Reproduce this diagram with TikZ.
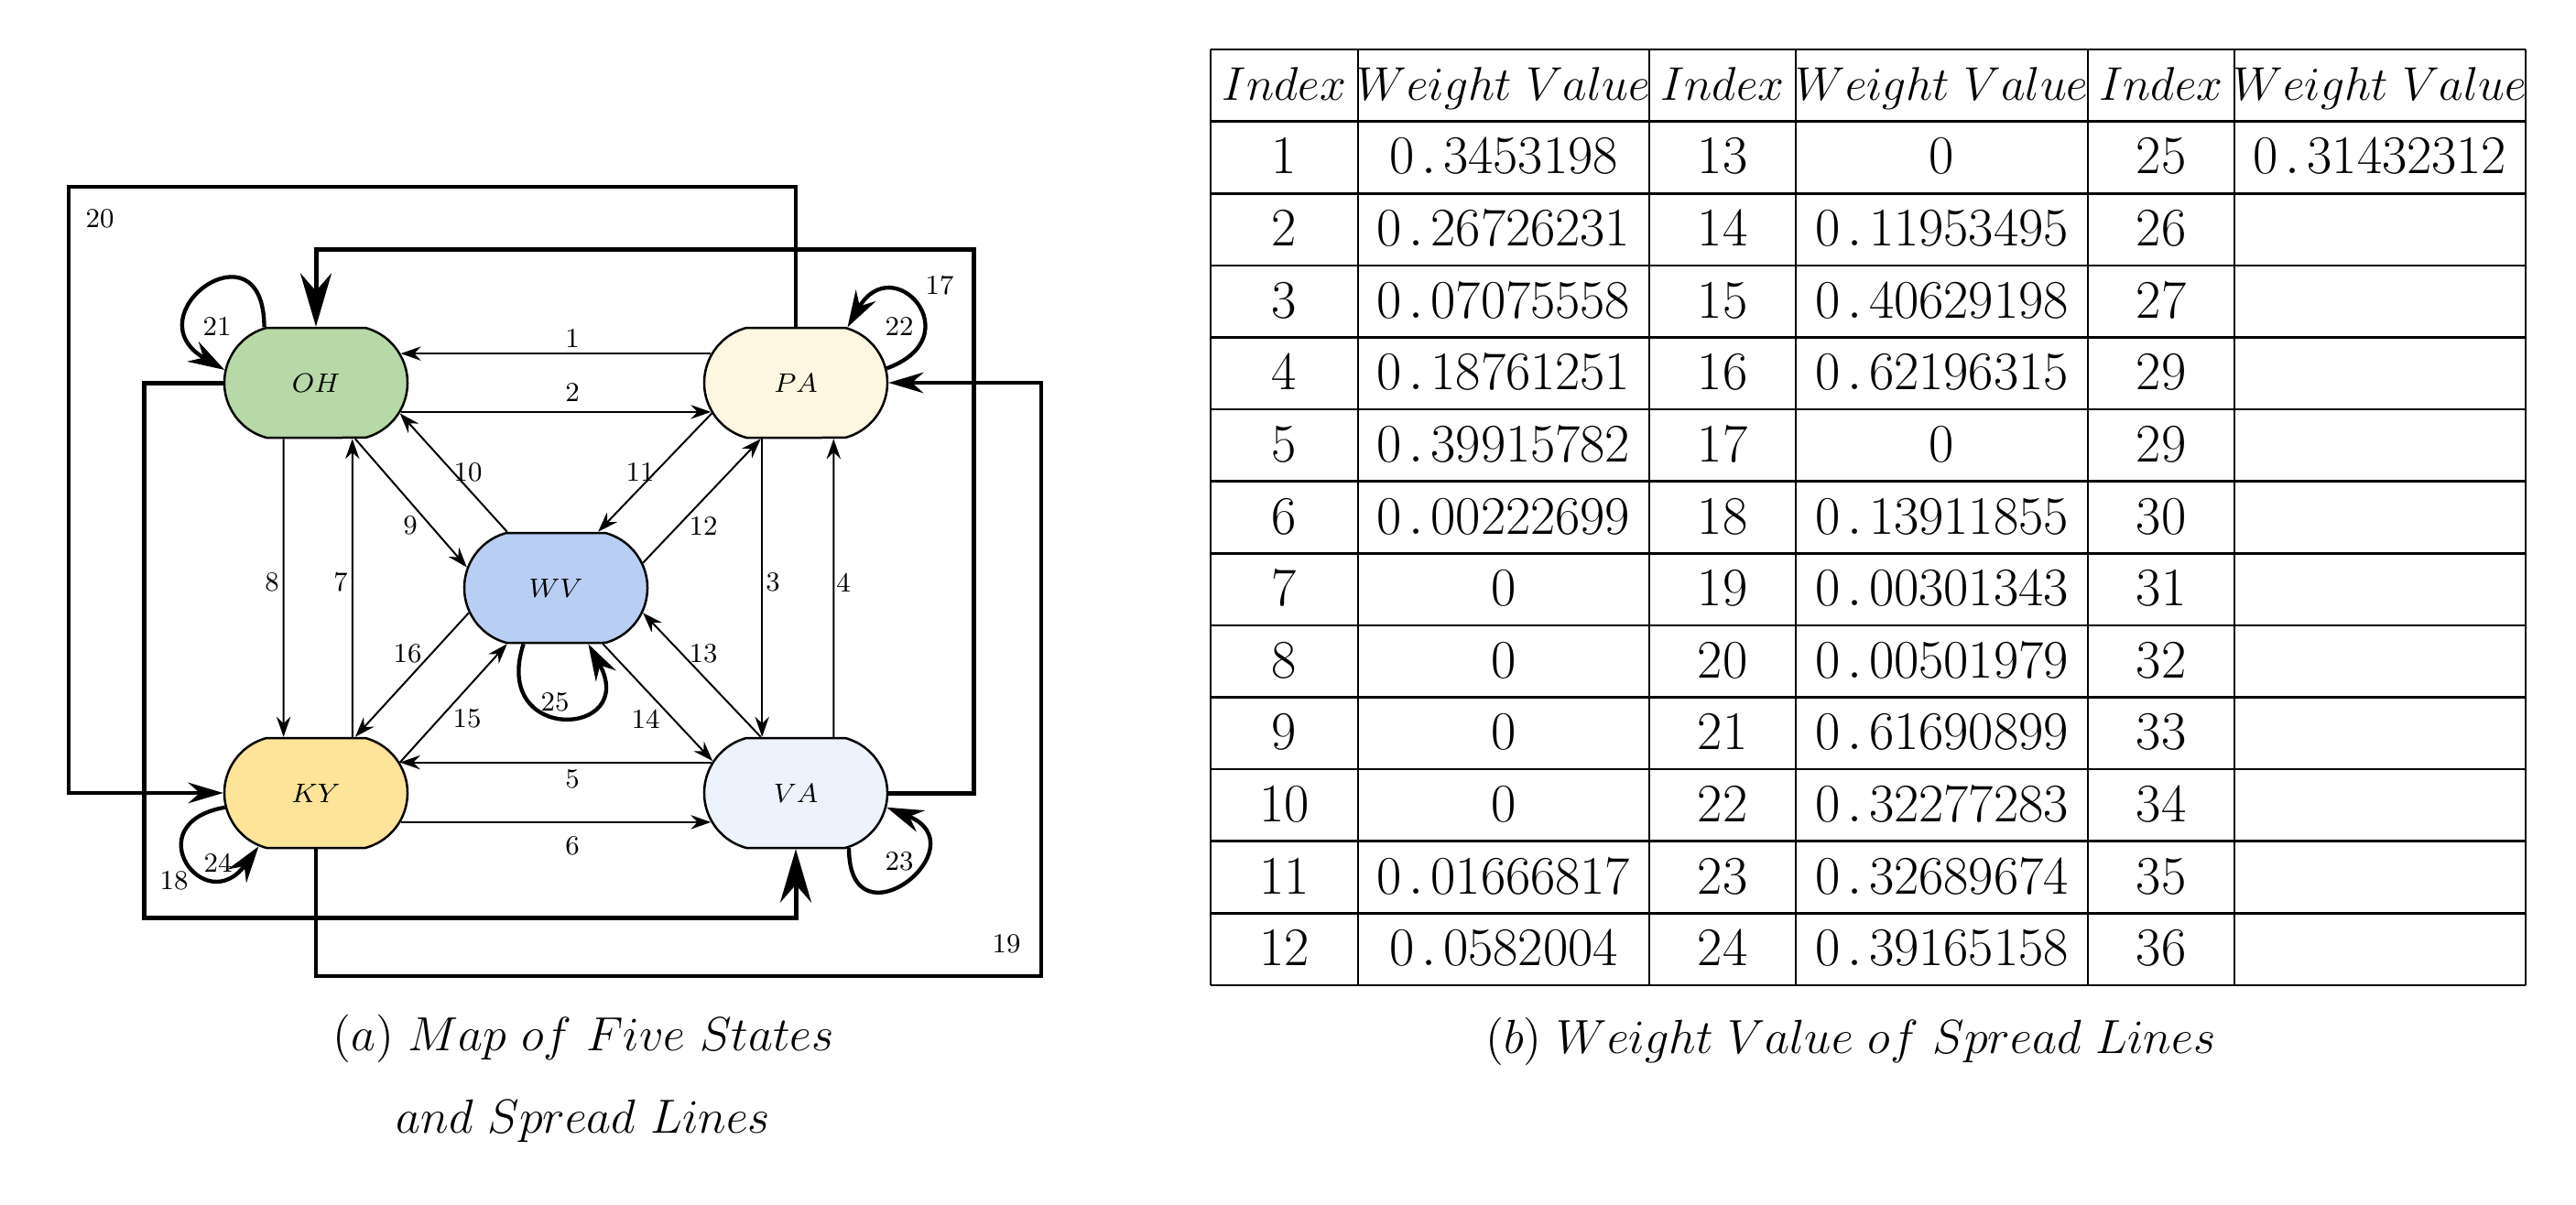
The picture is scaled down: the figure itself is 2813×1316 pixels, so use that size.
\RequirePackage{fix-cm}
\documentclass[tikz,border=0pt]{standalone}
\usetikzlibrary{shapes.misc,arrows.meta}
\definecolor{ohgreen}{HTML}{B7D9A7}
\definecolor{pacream}{HTML}{FDF6E1}
\definecolor{wvblue}{HTML}{B9CEF3}
\definecolor{kyyellow}{HTML}{FEE499}
\definecolor{vapale}{HTML}{EDF3FD}
% weight value with a spaced decimal point
\newcommand{\wn}[1]{$0\mkern2.4mu.\mkern2.4mu#1$}
\begin{document}
\begin{tikzpicture}[x=0.3pt,y=-0.3pt,
  state/.style={rounded rectangle, rounded rectangle arc length=150, draw, line width=0.75pt,
    minimum width=60pt, minimum height=36pt, inner sep=0pt, font=\fontsize{8.8}{10}\selectfont},
  flow/.style={line width=0.6pt, -{Stealth[length=6.6pt,width=4.6pt,inset=2.2pt]}},
  selfloop/.style={line width=1.3pt, -{Stealth[length=12pt,width=7.5pt,inset=4pt]}},
  route/.style={line width=1pt, -{Stealth[length=11.5pt,width=6.8pt,inset=3.8pt]}},
  trunk/.style={line width=1.5pt, -{Stealth[length=17.5pt,width=10.2pt,inset=5.8pt]}},
  lbl/.style={font=\fontsize{9}{10}\selectfont, inner sep=0pt},
  grid/.style={line width=0.8pt},
  headtxt/.style={anchor=base, inner sep=0pt, font=\fontsize{15.5}{18}\selectfont},
  celltxt/.style={anchor=base, inner sep=0pt, font=\fontsize{17.8}{20}\selectfont},
  captxt/.style={anchor=base, inner sep=0pt, font=\fontsize{15.7}{18}\selectfont}]
\useasboundingbox (0,0) rectangle (2813,1316);

% ---------- states ----------
\node[state, fill=ohgreen]  (OH) at (345,418) {$OH$};
\node[state, fill=pacream]  (PA) at (869,418) {$PA$};
\node[state, fill=wvblue]   (WV) at (607,642) {$WV$};
\node[state, fill=kyyellow] (KY) at (345,866) {$KY$};
\node[state, fill=vapale]   (VA) at (869,866) {$VA$};

% ---------- spread lines between neighbours ----------
\draw[flow] (PA.161)   -- (OH.19);      % 1
\draw[flow] (OH.-19)   -- (PA.-161);    % 2
\draw[flow] (PA.-121)  -- (VA.121);     % 3
\draw[flow] (VA.56)    -- (PA.-56);     % 4
\draw[flow] (VA.160)   -- (KY.20);      % 5
\draw[flow] (KY.-19)   -- (VA.-161);    % 6
\draw[flow] (KY.57)    -- (OH.-57);     % 7
\draw[flow] (OH.-120)  -- (KY.120);     % 8
\draw[flow] (OH.-55.5) -- (WV.167);     % 9
\draw[flow] (WV.131)   -- (OH.-20);     % 10
\draw[flow] (PA.-160)  -- (WV.53.6);    % 11
\draw[flow] (WV.16)    -- (PA.-122);    % 12
\draw[flow] (VA.122)   -- (WV.-16);     % 13
\draw[flow] (WV.-50)   -- (VA.159);     % 14
\draw[flow] (KY.20.7)  -- (WV.-131.5);  % 15
\draw[flow] (WV.-164)  -- (KY.55);      % 16

\node[lbl] (l1)  at (625,370) {1};
\node[lbl] (l2)  at (625,429) {2};
\node[lbl] (l3)  at (844,636) {3};
\node[lbl] (l4)  at (921,636) {4};
\node[lbl] (l5)  at (625,851) {5};
\node[lbl] (l6)  at (625,924) {6};
\node[lbl] (l7)  at (372,636) {7};
\node[lbl] (l8)  at (297,636) {8};
\node[lbl] (l9)  at (448,574) {9};
\node[lbl] (l10) at (511,516) {10};
\node[lbl] (l11) at (699,516) {11};
\node[lbl] (l12) at (768,575) {12};
\node[lbl] (l13) at (768,714) {13};
\node[lbl] (l14) at (705,785) {14};
\node[lbl] (l15) at (510,785) {15};
\node[lbl] (l16) at (445,714) {16};

% ---------- long routes round the map ----------
\coordinate (r20) at (75,204);
\coordinate (r17) at (1063,272);
\coordinate (r18) at (157,1002);
\coordinate (r19) at (1137,1066);
\draw[route] (PA.north) |- (r20) |- (KY.west);   % 20
\draw[trunk] (VA.east) -| (r17) -| (OH.north);   % 17
\draw[trunk] (OH.west) -| (r18) -| (VA.south);   % 18
\draw[route] (KY.south) |- (r19) |- (PA.east);   % 19
\node[lbl] (l20) at (109,239)  {20};
\node[lbl] (l17) at (1026,312) {17};
\node[lbl] (l18) at (190,962)  {18};
\node[lbl] (l19) at (1099,1031) {19};

% ---------- self loops ----------
\draw[selfloop] (OH.133)  .. controls +(90:36pt)  and +(150:36pt) .. (OH.172);   % 21
\draw[selfloop] (PA.9)    .. controls +(20:30pt)  and +(60:30pt)  .. (PA.47);    % 22
\draw[selfloop] (VA.-46)  .. controls +(-90:34pt) and +(-22:34pt) .. (VA.-9.5);  % 23
\draw[selfloop] (KY.-171) .. controls +(190:30pt) and +(234:30pt) .. (KY.-137);  % 24
\draw[selfloop] (WV.-120) .. controls +(-108:35pt) and +(-61:35pt) .. (WV.-60.5); % 25
\node[lbl] (l21) at (237,357) {21};
\node[lbl] (l22) at (982,357) {22};
\node[lbl] (l23) at (982,941) {23};
\node[lbl] (l24) at (238,942) {24};
\node[lbl] (l25) at (606,767) {25};

% ---------- weight table ----------
\foreach \i in {0,...,13}
  \draw[grid] (1322,{54+78.615*\i}) -- (2758,{54+78.615*\i});
\foreach \x in {1322,1483,1801,1961,2280,2440,2758}
  \draw[grid] (\x,54) -- (\x,1076);

\foreach \cx/\t [count=\k] in {1402.5/Index, 1642/Weight\ Value, 1881/Index,
    2120.5/Weight\ Value, 2360/Index, 2599/Weight\ Value}
  \node[headtxt] (h\k) at (\cx,109) {$\t$};

\foreach \a/\b/\c/\d/\e/\f [count=\r] in {
    1/\wn{3453198}/13/$0$/25/\wn{31432312},
    2/\wn{26726231}/14/\wn{11953495}/26/{},
    3/\wn{07075558}/15/\wn{40629198}/27/{},
    4/\wn{18761251}/16/\wn{62196315}/29/{},
    5/\wn{39915782}/17/$0$/29/{},
    6/\wn{00222699}/18/\wn{13911855}/30/{},
    7/$0$/19/\wn{00301343}/31/{},
    8/$0$/20/\wn{00501979}/32/{},
    9/$0$/21/\wn{61690899}/33/{},
    10/$0$/22/\wn{32277283}/34/{},
    11/\wn{01666817}/23/\wn{32689674}/35/{},
    12/\wn{0582004}/24/\wn{39165158}/36/{}}
{
  \pgfmathsetmacro{\by}{54+78.615*(\r+0.5)+18}
  \node[celltxt] (c\r-1) at (1402.5,\by) {\a};
  \node[celltxt] (c\r-2) at (1642,\by)   {\b};
  \node[celltxt] (c\r-3) at (1881,\by)   {\c};
  \node[celltxt] (c\r-4) at (2120.5,\by) {\d};
  \node[celltxt] (c\r-5) at (2360,\by)   {\e};
  \node[celltxt] (c\r-6) at (2599,\by)   {\f};
}

% ---------- captions ----------
\node[captxt] (capA1) at (637,1147) {$(a)\ Map\ of\ Five\ States$};
\node[captxt] (capA2) at (637,1237) {$and\ Spread\ Lines$};
\node[captxt] (capB)  at (2021,1150) {$(b)\ Weight\ Value\ of\ Spread\ Lines$};
\end{tikzpicture}
\end{document}
